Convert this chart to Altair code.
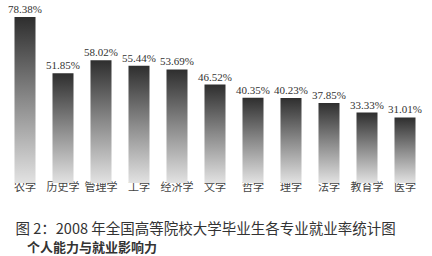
import altair as alt
import pandas as pd

categories = ["农学", "历史学", "管理学", "工学", "经济学", "文学", "哲学", "理学", "法学", "教育学", "医学"]
values = [78.38, 51.85, 58.02, 55.44, 53.69, 46.52, 40.35, 40.23, 37.85, 33.33, 31.01]
labels = [f"{v:.2f}%" for v in values]
title_text = "图 2：2008 年全国高等院校大学毕业生各专业就业率统计图"
subtitle_text = "个人能力与就业影响力"

df = pd.DataFrame({"cat": categories, "val": values, "label": labels})

x = alt.X("cat:N", sort=None,
          scale=alt.Scale(paddingInner=0.447, paddingOuter=0.2235),
          axis=alt.Axis(title=title_text, domain=False, ticks=False, labelAngle=0,
                        labelFont="Noto Sans CJK SC", labelFontSize=11,
                        labelColor="#444444", labelPadding=5,
                        titleFont="Noto Sans CJK SC", titleFontSize=14.5,
                        titleFontWeight="normal", titleColor="#333333",
                        titleAnchor="start", titleAlign="left", titleBaseline="top",
                        titleX=9, titleY=46))
y = alt.Y("val:Q", scale=alt.Scale(domain=[3.35, 86.45], zero=False, nice=False), axis=None)

base = alt.Chart(df).encode(x=x)

bars = base.mark_bar(
    color=alt.Gradient(gradient="linear", x1=0, x2=0, y1=0, y2=1,
                       stops=[alt.GradientStop(color="#2e2e2e", offset=0),
                              alt.GradientStop(color="#8a8a8a", offset=0.5),
                              alt.GradientStop(color="#e2e2e2", offset=1)])
).encode(y=y, y2=alt.value(176))

text = base.mark_text(baseline="bottom", dy=-2, font="Liberation Serif",
                      fontSize=11, color="#333333").encode(y=y, text="label:N")

chart = alt.layer(bars, text).properties(
    width=418, height=176,
    autosize=alt.AutoSizeParams(type="none"),
    padding={"left": 6, "top": 0, "right": 8, "bottom": 80},
    background="white",
    title=alt.TitleParams(
        text=subtitle_text,
        orient="bottom", anchor="start", dx=21, offset=6,
        font="Noto Sans CJK SC", fontSize=13, fontWeight="bold", color="#333333")
).configure_view(stroke=None)

chart.save("out.html", embed_options={"renderer": "svg", "actions": False})
